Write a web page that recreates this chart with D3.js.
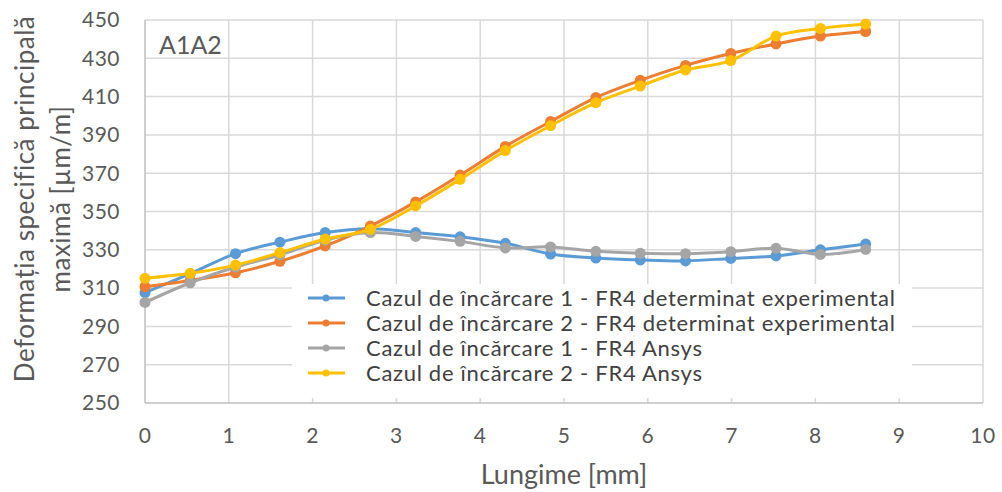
<!DOCTYPE html>
<html>
<head>
<meta charset="utf-8">
<script src="https://cdn.jsdelivr.net/npm/d3@7"></script>
<style>
  body { margin: 0; background: #fff; }
  text { font-family: Lato, "Open Sans", sans-serif; }
</style>
</head>
<body>
<div id="chart"></div>
<script>
// values
const lungime = [0, 0.54, 1.08, 1.61, 2.15, 2.69, 3.23, 3.76, 4.3, 4.84, 5.38, 5.91, 6.45, 6.99, 7.53, 8.06, 8.6];
const caz1Exp = [307.6, 317.5, 328, 334, 339, 341, 339, 336.8, 333.4, 327.8, 325.7, 324.7, 324.2, 325.5, 326.8, 330, 333];
const caz2Exp = [310.7, 314, 318, 324, 332, 342.4, 355, 369, 384, 397, 409.5, 418.5, 426.3, 432.5, 437.5, 441.6, 444];
const caz1Ansys = [302.5, 312.8, 321, 327.3, 335, 339, 337, 334.4, 331, 331.5, 329.2, 328.2, 328, 329, 330.8, 327.6, 330.2];
const caz2Ansys = [315.1, 317.7, 322, 328.5, 335.6, 340.7, 352.9, 366.8, 381.8, 394.8, 406.8, 415.5, 423.9, 428.8, 441.6, 445.6, 447.9];

const seriesNames = [
  "Cazul de încărcare 1 - FR4 determinat experimental",
  "Cazul de încărcare 2 - FR4 determinat experimental",
  "Cazul de încărcare 1 - FR4 Ansys",
  "Cazul de încărcare 2 - FR4 Ansys"
];
const seriesColors = ["#5B9BD5", "#ED7D31", "#A5A5A5", "#FFC000"];
const xTicks = [0, 1, 2, 3, 4, 5, 6, 7, 8, 9, 10];
const yTicks = [250, 270, 290, 310, 330, 350, 370, 390, 410, 430, 450];

const width = 1002;
const height = 492;
const plot = { left: 145, right: 983, top: 20, bottom: 403 };

const svg = d3.select("#chart")
  .append("svg")
  .attr("width", width)
  .attr("height", height);

const x = d3.scaleLinear().domain([0, 10]).range([plot.left, plot.right]);
const y = d3.scaleLinear().domain([250, 450]).range([plot.bottom, plot.top]);

// gridlines
svg.append("g")
  .selectAll("line.h")
  .data(yTicks.slice(1))
  .join("line")
  .attr("x1", plot.left).attr("x2", plot.right)
  .attr("y1", d => y(d)).attr("y2", d => y(d))
  .attr("stroke", "#d9d9d9").attr("stroke-width", 1.5);

svg.append("g")
  .selectAll("line.v")
  .data(xTicks.slice(1))
  .join("line")
  .attr("x1", d => x(d)).attr("x2", d => x(d))
  .attr("y1", plot.top).attr("y2", plot.bottom)
  .attr("stroke", "#d9d9d9").attr("stroke-width", 1.5);

// axis lines
svg.append("line")
  .attr("x1", plot.left).attr("x2", plot.right)
  .attr("y1", plot.bottom).attr("y2", plot.bottom)
  .attr("stroke", "#bfbfbf").attr("stroke-width", 1.5);
svg.append("line")
  .attr("x1", plot.left).attr("x2", plot.left)
  .attr("y1", plot.top).attr("y2", plot.bottom)
  .attr("stroke", "#bfbfbf").attr("stroke-width", 1.5);

// tick labels
svg.append("g")
  .selectAll("text")
  .data(yTicks)
  .join("text")
  .attr("x", 120)
  .attr("y", d => y(d))
  .attr("dy", "0.35em")
  .attr("text-anchor", "end")
  .attr("font-size", 21)
  .attr("letter-spacing", 0.5)
  .attr("fill", "#595959")
  .text(d => d);

svg.append("g")
  .selectAll("text")
  .data(xTicks)
  .join("text")
  .attr("x", d => x(d))
  .attr("y", 436)
  .attr("dy", "0.35em")
  .attr("text-anchor", "middle")
  .attr("font-size", 21)
  .attr("letter-spacing", 0.5)
  .attr("fill", "#595959")
  .text(d => d);

// axis titles
svg.append("text")
  .attr("x", (plot.left + plot.right) / 2)
  .attr("y", 475)
  .attr("dy", "0.35em")
  .attr("text-anchor", "middle")
  .attr("font-size", 27)
  .attr("fill", "#595959")
  .text("Lungime [mm]");

const yTitle = svg.append("text")
  .attr("transform", "translate(43,199) rotate(-90)")
  .attr("text-anchor", "middle")
  .attr("font-size", 26)
  .attr("letter-spacing", 0.5)
  .attr("fill", "#595959");
yTitle.append("tspan").attr("x", 0).attr("dy", "-0.35em").text("Deformația specifică principală");
yTitle.append("tspan").attr("x", 0).attr("dy", "1.4em").text("maximă [µm/m]");

svg.append("text")
  .attr("x", 159)
  .attr("y", 45)
  .attr("dy", "0.35em")
  .attr("font-size", 25)
  .attr("fill", "#595959")
  .text("A1A2");

// series
const allSeries = [caz1Exp, caz2Exp, caz1Ansys, caz2Ansys];
const line = d3.line()
  .x((d, i) => x(lungime[i]))
  .y(d => y(d))
  .curve(d3.curveCatmullRom.alpha(0.5));

allSeries.forEach((vals, k) => {
  const g = svg.append("g");
  g.append("path")
    .datum(vals)
    .attr("d", line)
    .attr("fill", "none")
    .attr("stroke", seriesColors[k])
    .attr("stroke-width", 3)
    .attr("stroke-linejoin", "round");
  g.selectAll("circle")
    .data(vals)
    .join("circle")
    .attr("cx", (d, i) => x(lungime[i]))
    .attr("cy", d => y(d))
    .attr("r", 5.5)
    .attr("fill", seriesColors[k]);
});

// legend
const legend = svg.append("g");
legend.append("rect")
  .attr("x", 292).attr("y", 284)
  .attr("width", 620).attr("height", 114)
  .attr("fill", "#fff");

const rows = legend.selectAll("g.row")
  .data(seriesNames)
  .join("g")
  .attr("transform", (d, i) => `translate(0,${298 + i * 25})`);
rows.append("line")
  .attr("x1", 308).attr("x2", 345)
  .attr("stroke", (d, i) => seriesColors[i])
  .attr("stroke-width", 3);
rows.append("circle")
  .attr("cx", 326).attr("r", 3.5)
  .attr("fill", (d, i) => seriesColors[i]);
rows.append("text")
  .attr("x", 366)
  .attr("dy", "0.35em")
  .attr("font-size", 22)
  .attr("letter-spacing", 0.7)
  .attr("fill", "#404040")
  .text(d => d);
</script>
</body>
</html>
